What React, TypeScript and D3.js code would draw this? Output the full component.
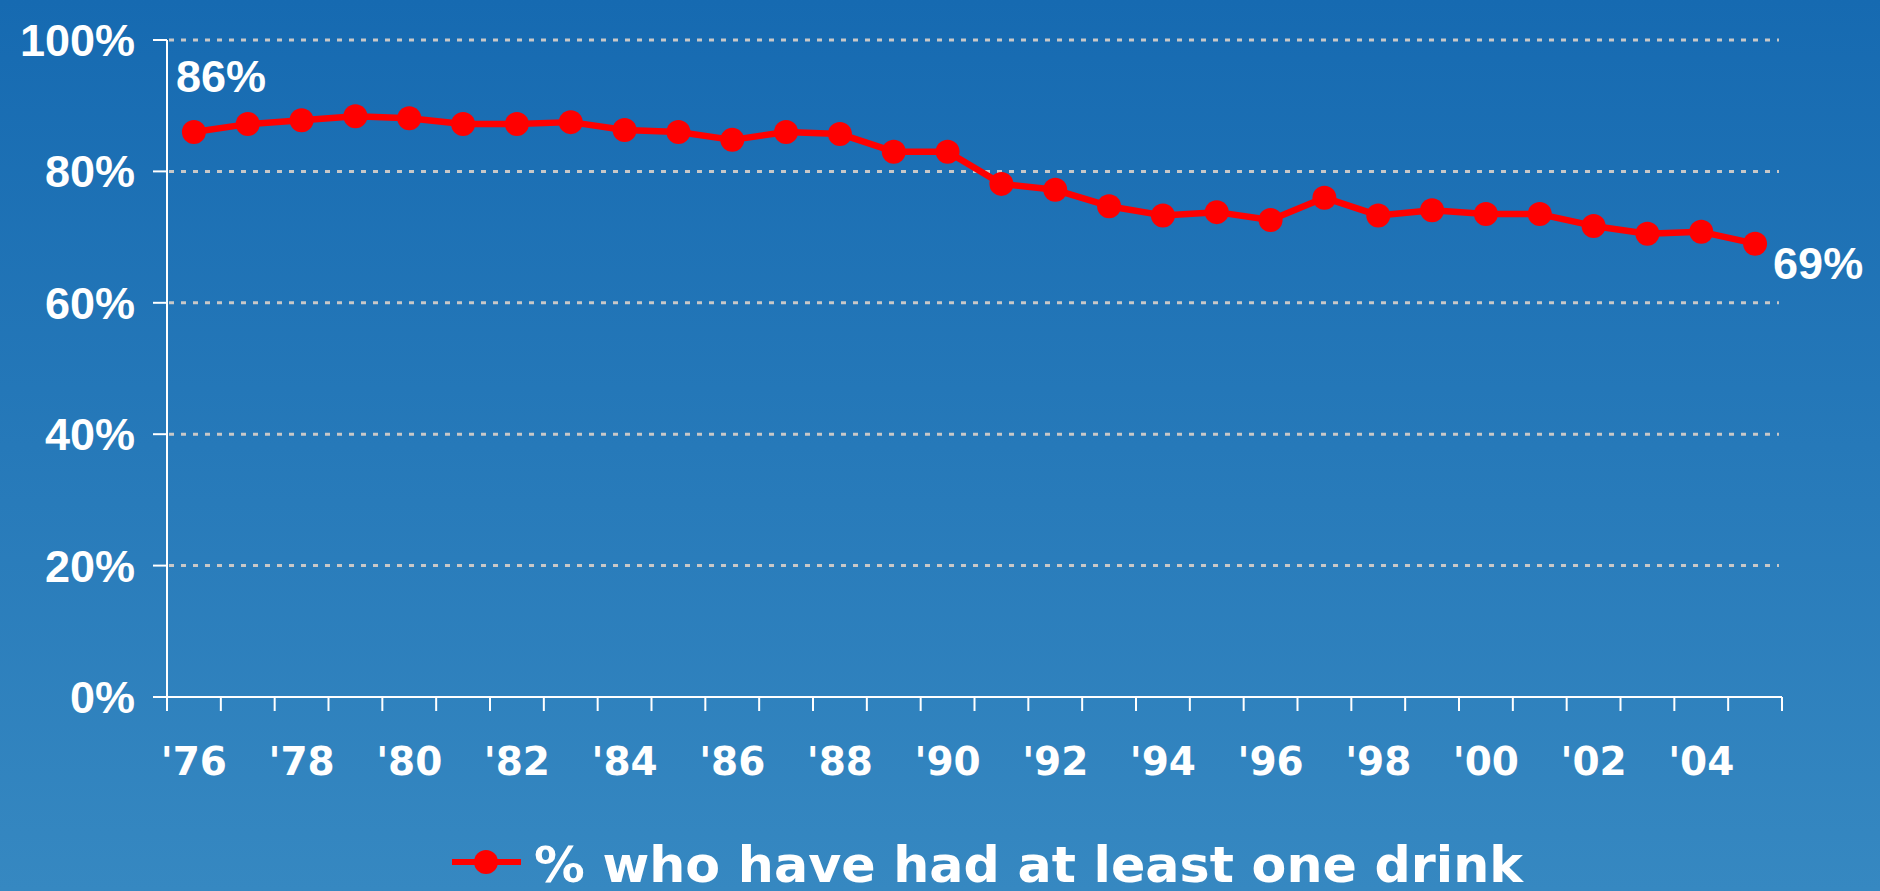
import React from "react";
import * as d3 from "d3";

const years = [1976,1977,1978,1979,1980,1981,1982,1983,1984,1985,1986,1987,1988,1989,1990,1991,1992,1993,1994,1995,1996,1997,1998,1999,2000,2001,2002,2003,2004,2005];
const values = [86.0,87.2,87.8,88.4,88.1,87.2,87.2,87.5,86.3,86.0,84.8,86.0,85.7,83.0,83.0,78.1,77.2,74.7,73.3,73.8,72.6,76.0,73.3,74.1,73.5,73.5,71.7,70.5,70.8,69.0];
const yTicks = [0,20,40,60,80,100];
const xLabelYears = [1976,1978,1980,1982,1984,1986,1988,1990,1992,1994,1996,1998,2000,2002,2004];
const seriesName = "% who have had at least one drink";
const firstLabel = "86%";
const lastLabel = "69%";

const W = 1880, H = 891;
const left = 167, right = 1782, top = 40, bottom = 697;

export default function App() {
  const x = d3.scaleBand<number>().domain(years).range([left, right]).padding(0);
  const y = d3.scaleLinear().domain([0, 100]).range([bottom, top]);
  const cx = (yr: number) => (x(yr) as number) + x.bandwidth() / 2;
  const line = d3.line<number>().x((_, i) => cx(years[i])).y((v) => y(v));
  const boundaries = d3.range(years.length + 1).map((i) => left + i * x.bandwidth());
  const yFont = "'Liberation Sans', Arial, sans-serif";
  const xFont = "'DejaVu Sans', Verdana, sans-serif";
  const lastIdx = years.length - 1;

  return (
    <svg width={W} height={H} style={{ position: "absolute", left: 0, top: 0 }}>
      <defs>
        <linearGradient id="bg" x1="0" y1="0" x2="0" y2="1">
          <stop offset="0" stopColor="#166ab1" />
          <stop offset="1" stopColor="#3688c1" />
        </linearGradient>
      </defs>
      <rect width={W} height={H} fill="url(#bg)" />
      {yTicks.filter((t) => t > 0).map((t) => (
        <line key={"g" + t} x1={left + 2} x2={1779} y1={y(t)} y2={y(t)} stroke="#c8c8c8" strokeWidth={3} strokeDasharray="5 7" />
      ))}
      <line x1={left} x2={left} y1={top} y2={bottom + 14} stroke="#fff" strokeWidth={2} />
      <line x1={left} x2={right} y1={bottom} y2={bottom} stroke="#fff" strokeWidth={2} />
      {yTicks.map((t) => (
        <g key={"y" + t}>
          <line x1={153} x2={left} y1={y(t)} y2={y(t)} stroke="#fff" strokeWidth={2} />
          <text x={135} y={y(t) + 16} textAnchor="end" fill="#fff" fontFamily={yFont} fontWeight="bold" fontSize={45}>{t}%</text>
        </g>
      ))}
      {boundaries.map((bx, i) => (
        <line key={"xt" + i} x1={bx} x2={bx} y1={bottom} y2={bottom + 14} stroke="#fff" strokeWidth={2} />
      ))}
      {xLabelYears.map((yr) => (
        <text key={"xl" + yr} x={cx(yr)} y={775} textAnchor="middle" fill="#fff" fontFamily={xFont} fontWeight="bold" fontSize={39}>
          {"'" + String(yr).slice(2)}
        </text>
      ))}
      <path d={line(values) || ""} fill="none" stroke="#ff0000" strokeWidth={6.5} strokeLinejoin="round" />
      {values.map((v, i) => (
        <circle key={"c" + i} cx={cx(years[i])} cy={y(v)} r={12} fill="#ff0000" />
      ))}
      <text x={176} y={92} fill="#fff" fontFamily={yFont} fontWeight="bold" fontSize={45}>{firstLabel}</text>
      <text x={cx(years[lastIdx]) + 18} y={y(values[lastIdx]) + 35} fill="#fff" fontFamily={yFont} fontWeight="bold" fontSize={45}>{lastLabel}</text>
      <line x1={452} x2={521} y1={862} y2={862} stroke="#ff0000" strokeWidth={6} />
      <circle cx={486} cy={862} r={12} fill="#ff0000" />
      <text x={534} y={882} fill="#fff" fontFamily={xFont} fontWeight="bold" fontSize={49} textLength={989} lengthAdjust="spacingAndGlyphs">{seriesName}</text>
    </svg>
  );
}
